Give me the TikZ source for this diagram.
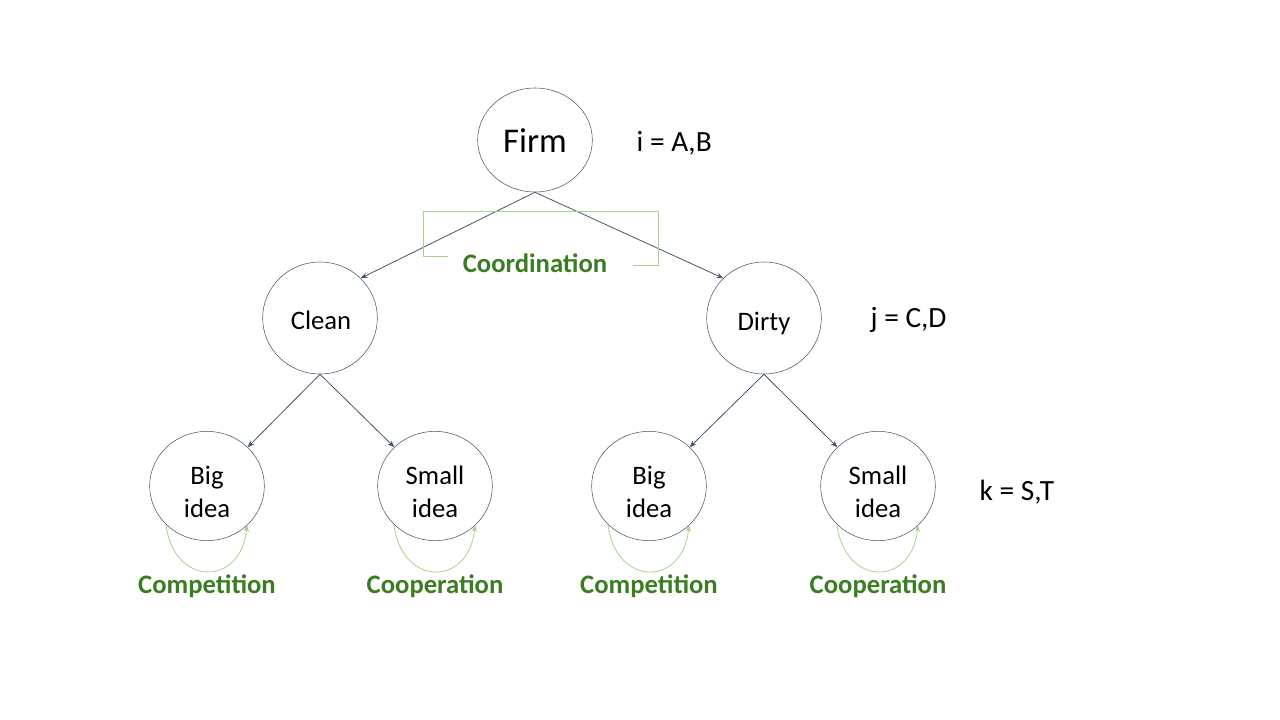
\documentclass[tikz,border=0pt]{standalone}
\usepackage{fontspec}
\setmainfont{Carlito}
\usetikzlibrary{arrows.meta,shapes.geometric}
\definecolor{edge}{HTML}{44546A}
\definecolor{lgreen}{HTML}{A9D18E}
\definecolor{dgreen}{HTML}{3A7D22}
\begin{document}
\begin{tikzpicture}[x=0.75pt,y=-0.75pt,
  circ/.style={draw=edge,ellipse,inner sep=0pt,minimum width=86pt,minimum height=84pt},
  txt/.style={align=center,inner sep=0pt,font=\fontsize{20}{24.5}\selectfont},
  arr/.style={draw=edge,-{Stealth[length=5pt,width=4pt]},line width=0.6pt},
  loopa/.style={draw=lgreen,-{Stealth[length=5pt,width=4pt]},line width=0.6pt},
  glab/.style={text=dgreen,font=\bfseries\fontsize{20}{24}\selectfont},
  vlab/.style={font=\fontsize{22}{26}\selectfont,anchor=west}]
\useasboundingbox (0,0) rectangle (1280,720);
\node[circ,minimum height=78pt] (firm) at (535,140) {};
\node[circ] (clean) at (320,318) {};
\node[circ] (dirty) at (764,318) {};
\node[circ,minimum height=82pt] (b1) at (207,486) {};
\node[circ,minimum height=82pt] (s1) at (435,486) {};
\node[circ,minimum height=82pt] (b2) at (649,486) {};
\node[circ,minimum height=82pt] (s2) at (878,486) {};
\node[txt,font=\fontsize{26}{30}\selectfont,text depth=0pt] (firmt) at (535,141) {Firm};
\node[txt,text depth=0pt] (cleant) at (321,320) {Clean};
\node[txt,text depth=0pt] (dirtyt) at (764,321) {Dirty};
\node[txt] (b1t) at (207,492) {Big\\idea};
\node[txt] (s1t) at (435,492) {Small\\idea};
\node[txt] (b2t) at (649,492) {Big\\idea};
\node[txt] (s2t) at (878,492) {Small\\idea};
\draw[arr] (firm.south) -- (clean.north east);
\draw[arr] (firm.south) -- (dirty.north west);
\draw[arr] (clean.south) -- (b1.north east);
\draw[arr] (clean.south) -- (s1.north west);
\draw[arr] (dirty.south) -- (b2.north east);
\draw[arr] (dirty.south) -- (s2.north west);
\coordinate (bl) at (448,256);
\coordinate (br) at (633,265);
\draw[lgreen,line width=0.6pt] (bl) -- (423,256) -- (423,211) -- (658,211) -- (658,265) -- (br);
\node[glab] (coord) at (535,263) {Coordination};
\foreach \n/\t in {b1/Competition,s1/Cooperation,b2/Competition,s2/Cooperation}{
  \draw[loopa] ([shift={(-41,39)}]\n.center) .. controls +(8,62) and +(-6,62) .. ([shift={(40,39)}]\n.center);
  \node[glab] (\n lab) at ([shift={(0,100)}]\n.center) {\t};
}
\node[vlab] (il) at (632,143) {i = A,B};
\node[vlab] (jl) at (866,320) {j = C,D};
\node[vlab] (kl) at (975,492) {k = S,T};
\end{tikzpicture}
\end{document}
